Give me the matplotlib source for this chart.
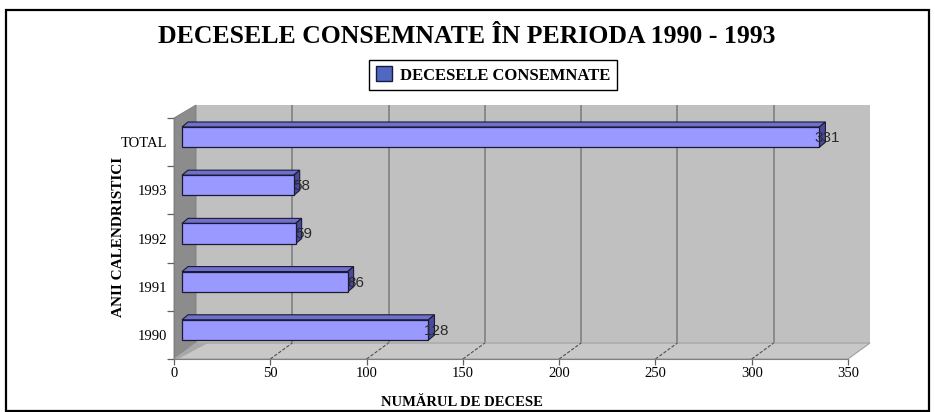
import matplotlib
matplotlib.use("Agg")
import matplotlib.pyplot as plt
from matplotlib.patches import Rectangle, Polygon, Patch

# ---------------- data ----------------
categories = ["1990", "1991", "1992", "1993", "TOTAL"]
deaths = [128, 86, 59, 58, 331]
x_ticks = [0, 50, 100, 150, 200, 250, 300, 350]
title = "DECESELE CONSEMNATE ÎN PERIODA 1990 - 1993"
series_name = "DECESELE CONSEMNATE"
x_label = "NUMĂRUL DE DECESE"
y_label = "ANII CALENDRISTICI"

# ---------------- layout ----------------
W, H = 935, 412
SERIF = ["Liberation Serif", "DejaVu Serif"]
SANS = ["Liberation Sans", "DejaVu Sans"]
XMAX = 350

fig = plt.figure(figsize=(W / 100, H / 100), dpi=100)
fig.patch.set_facecolor("white")


def add_ax(left, top, right, bottom, z):
    a = fig.add_axes([left / W, (H - bottom) / H, (right - left) / W, (bottom - top) / H])
    a.set_zorder(z)
    return a


# decoration axes in pixel coordinates
axd = add_ax(0, 0, W, H, 0)
axd.set_xlim(0, W)
axd.set_ylim(H, 0)
axd.axis("off")

# geometry (pixels)
FL, FR, FT, FB = 174, 848, 118, 359   # front plane
DX, DY = 22, -16                       # depth offset of back wall
BL, BR, BT, BB = FL + DX, FR + DX, 105, FB + DY

# back wall axes
axb = add_ax(BL, BT, BR, BB, 1)
axb.set_facecolor("#C0C0C0")
axb.set_xlim(0, XMAX)
axb.set_ylim(0, 1)
axb.set_xticks(x_ticks[1:-1])
axb.set_yticks([])
axb.tick_params(length=0, labelbottom=False)
axb.grid(axis="x", color="#7A7A7A", linewidth=1.1)
for s in axb.spines.values():
    s.set_visible(False)

# side wall and floor (decoration)
axd2 = add_ax(0, 0, W, H, 2)
axd2.set_xlim(0, W)
axd2.set_ylim(H, 0)
axd2.axis("off")
axd2.add_patch(Polygon([(FL, FB), (FL, FT), (BL, BT), (BL, BB)], closed=True,
                       facecolor="#8C8C8C", edgecolor="#7A7A7A", linewidth=0.6))
axd2.add_patch(Polygon([(FL, FB), (FR, FB), (BR, BB), (BL, BB)], closed=True,
                       facecolor="#C8C8C8", edgecolor="#A0A0A0", linewidth=0.8))
axd2.add_patch(Polygon([(FL, FB), (BL, BB), (BL + 12, BB), (FL + 4, FB)], closed=True,
                       facecolor="#A8A8A8", edgecolor="none"))
px_per_unit = (FR - FL) / XMAX
for t in x_ticks[1:-1]:
    x0 = FL + t * px_per_unit
    axd2.plot([x0, x0 + DX], [FB, FB + DY], color="#505050", linewidth=0.8,
              linestyle=(0, (3, 1.5)))

# bars axes (mid depth)
ML, MT = FL + 8, FT - 5
MR, MB = ML + (FR - FL), FB - 5
axm = add_ax(ML, MT, MR, MB, 3)
axm.set_xlim(0, XMAX)
axm.set_ylim(-0.5, len(categories) - 0.5)
axm.axis("off")
axm.patch.set_visible(False)

h = 0.42
ddx = 6 * XMAX / (MR - ML)
ddy = 5 * len(categories) / (MB - MT)
for i, v in enumerate(deaths):
    y0, y1 = i - h / 2, i + h / 2
    axm.add_patch(Polygon([(0, y1), (v, y1), (v + ddx, y1 + ddy), (ddx, y1 + ddy)],
                          closed=True, facecolor="#6F6FCC", edgecolor="#1A1A33",
                          linewidth=0.8, clip_on=False))
    axm.add_patch(Polygon([(v, y0), (v + ddx, y0 + ddy), (v + ddx, y1 + ddy), (v, y1)],
                          closed=True, facecolor="#4A4A9C", edgecolor="#1A1A33",
                          linewidth=0.8, clip_on=False))
    axm.add_patch(Rectangle((0, y0), v, h, facecolor="#9999FF", edgecolor="#1A1A33",
                            linewidth=0.9, clip_on=False))
    axm.annotate(str(v), (v, i), xytext=(8, -1), textcoords="offset pixels",
                 ha="center", va="center", fontsize=11, family=SANS,
                 color="#2A2A2A", zorder=5, annotation_clip=False)

# front axes: ticks and labels
axf = add_ax(FL, FT, FR, FB, 4)
axf.patch.set_visible(False)
axf.set_xlim(0, XMAX)
axf.set_ylim(-0.5, len(categories) - 0.5)
axf.set_xticks(x_ticks)
axf.set_xticklabels([str(t) for t in x_ticks], family=SERIF, fontsize=10.5)
axf.set_yticks([k - 0.5 for k in range(len(categories) + 1)])
axf.set_yticklabels([])
axf.set_yticks(range(len(categories)), minor=True)
axf.set_yticklabels(categories, minor=True, family=SERIF, fontsize=10.5)
axf.tick_params(axis="y", which="major", length=5, color="#606060", width=0.9)
axf.tick_params(axis="y", which="minor", length=0, pad=5)
axf.tick_params(axis="x", length=4, color="#606060", width=0.9, pad=1.5)
for s in ["top", "right"]:
    axf.spines[s].set_visible(False)
axf.spines["bottom"].set_color("#808080")
axf.spines["left"].set_color("#808080")

# titles
fig.text(467 / W, 1 - 36.5 / H, title, ha="center", va="center",
         family=SERIF, fontweight="bold", fontsize=18.5)
fig.text(462 / W, 1 - 402 / H, x_label, ha="center", va="center",
         family=SERIF, fontweight="bold", fontsize=10.5)
fig.text(119 / W, 1 - 237 / H, y_label, ha="center", va="center", rotation=90,
         family=SERIF, fontweight="bold", fontsize=11)

# legend
handle = Patch(facecolor="#5068C0", edgecolor="#1A1A40", linewidth=1.0, label=series_name)
leg = fig.legend(handles=[handle], loc="center", bbox_to_anchor=(493 / W, 1 - 75 / H),
                 frameon=True, fancybox=False, edgecolor="black", framealpha=1,
                 prop={"family": SERIF, "weight": "bold", "size": 12},
                 handlelength=1.0, handleheight=1.0, handletextpad=0.45,
                 borderpad=0.4, borderaxespad=0)
leg.get_frame().set_linewidth(1.0)
leg.set_zorder(6)

# outer frame
axd.add_patch(Rectangle((6, 10), 923, 401, facecolor="none", edgecolor="black",
                        linewidth=1.6))

fig.savefig("out.png", dpi=100, facecolor="white")
